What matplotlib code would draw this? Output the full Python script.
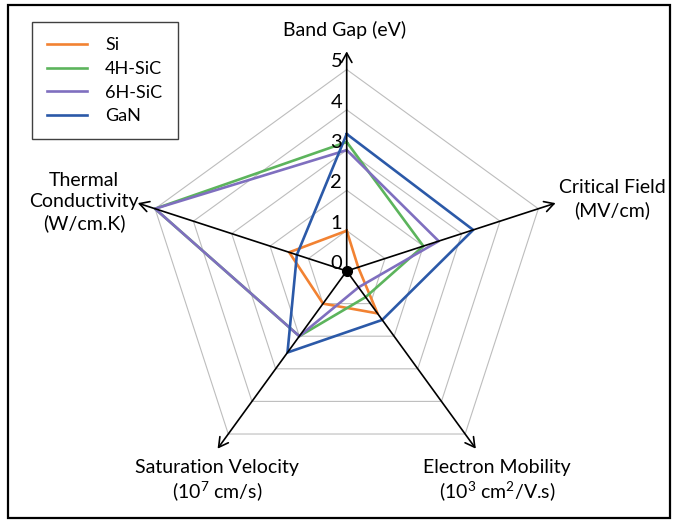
import numpy as np
import matplotlib
matplotlib.use("Agg")
import matplotlib.pyplot as plt
from matplotlib.patches import Rectangle

plt.rcParams["font.family"] = ["Lato", "DejaVu Sans"]
plt.rcParams["mathtext.fontset"] = "custom"
plt.rcParams["mathtext.rm"] = "Lato"
plt.rcParams["mathtext.it"] = "Lato:italic"
plt.rcParams["mathtext.bf"] = "Lato:bold"

# Material properties, one value per spoke (clockwise from the top)
properties = ["Band Gap", "Critical Field", "Electron Mobility",
              "Saturation Velocity", "Thermal Conductivity"]
materials = ["Si", "4H-SiC", "6H-SiC", "GaN"]
si_vals = [1.0, 0.3, 1.3, 1.0, 1.5]
sic4h_vals = [3.2, 2.0, 0.8, 2.0, 5.0]
sic6h_vals = [3.0, 2.4, 0.5, 2.0, 5.0]
gan_vals = [3.4, 3.3, 1.5, 2.5, 1.3]
ring_levels = [0, 1, 2, 3, 4, 5]

colors = ["#F28232", "#5CB45C", "#7F6FBF", "#2B59A8"]

fig = plt.figure(figsize=(6.78, 5.20), dpi=100)

# square polar axes, centre of the web at (346.7, 271) px
rmax = 5.6
W, H = 678, 520
cx, cy, rad = 346.7, 271, rmax * 40.3
ax = fig.add_axes([(cx - rad) / W, (H - cy - rad) / H, 2 * rad / W, 2 * rad / H],
                  projection="polar")
ax.set_theta_offset(np.pi / 2)
ax.set_theta_direction(-1)
ax.set_ylim(0, rmax)
ax.axis("off")

n = len(properties)
theta = np.arange(n) * 2 * np.pi / n
closed = np.append(theta, theta[0])

# pentagon grid
for lvl in ring_levels[1:]:
    ax.plot(closed, [lvl] * (n + 1), color="#BDBDBD", lw=0.8, zorder=1)

# series
for name, vals, c in zip(materials, [si_vals, sic4h_vals, sic6h_vals, gan_vals], colors):
    ax.plot(closed, vals + vals[:1], color=c, lw=1.9, label=name, zorder=3)

# black spokes with arrow heads
for t in theta:
    ax.annotate("", xy=(t, 5.45), xytext=(t, 0),
                arrowprops=dict(arrowstyle="->,head_length=0.45,head_width=0.25",
                                lw=1.2, color="black", mutation_scale=15,
                                shrinkA=0, shrinkB=0),
                zorder=4)
ax.plot([0], [0], "o", color="black", ms=7, zorder=5)

# scale labels along the top spoke
for lvl in ring_levels:
    ax.annotate(str(lvl), xy=(0, lvl), xytext=(-7.5, 1.5), textcoords="offset points",
                ha="center", va="baseline", fontsize=14.5, zorder=5)

# spoke titles
fs = 14
fig.text(345 / W, 1 - 30 / H, "Band Gap (eV)", ha="center", va="center", fontsize=fs)
fig.text(612 / W, 1 - 199 / H, "Critical Field\n(MV/cm)", ha="center", va="center",
         fontsize=fs, linespacing=1.3)
fig.text(497 / W, 1 - 481 / H, "Electron Mobility\n(10$^{3}$ cm$^{2}$/V.s)",
         ha="center", va="center", fontsize=fs, linespacing=1.2)
fig.text(217 / W, 1 - 481 / H, "Saturation Velocity\n(10$^{7}$ cm/s)",
         ha="center", va="center", fontsize=fs, linespacing=1.2)
fig.text(84 / W, 1 - 202 / H, "Thermal\nConductivity\n(W/cm.K)", ha="center",
         va="center", fontsize=fs, linespacing=1.3)

leg = fig.legend(loc="upper left", bbox_to_anchor=(32 / W, 1 - 22 / H),
                 fontsize=13, handlelength=2.2, handletextpad=1.0,
                 labelspacing=0.42, borderpad=0.85, borderaxespad=0,
                 fancybox=False, edgecolor="#404040", framealpha=1)
leg.get_frame().set_linewidth(1.0)

# outer frame
fig.add_artist(Rectangle((8 / W, 2 / H), (670 - 8) / W, (515 - 2) / H,
                         transform=fig.transFigure, fill=False, lw=1.6,
                         ec="black"))

fig.savefig("out.png", dpi=100)
